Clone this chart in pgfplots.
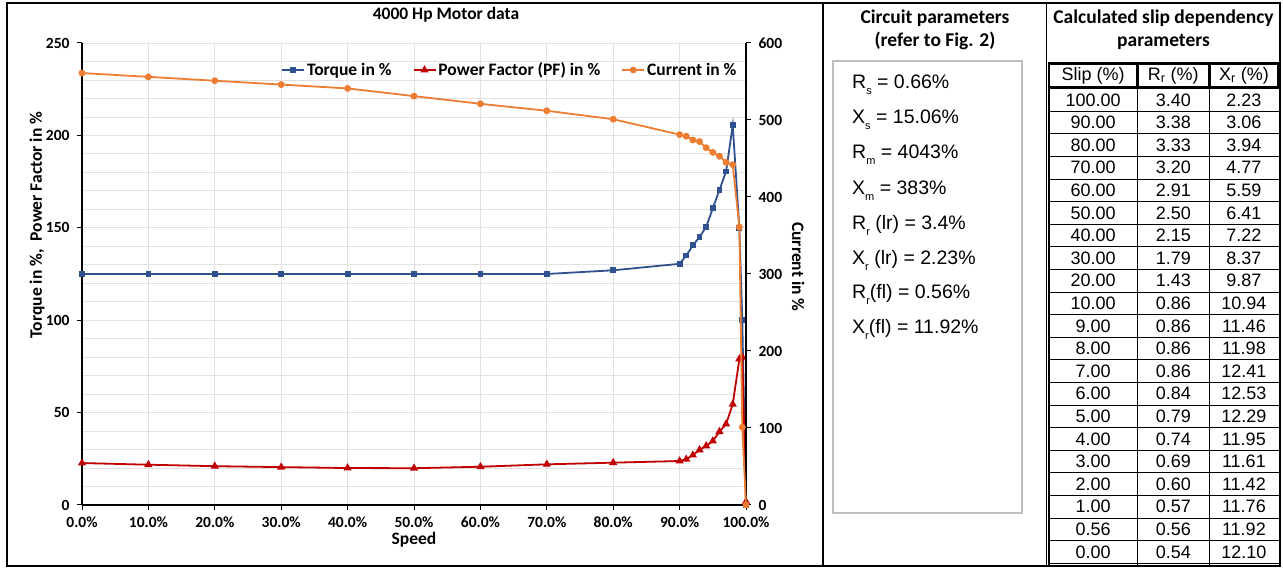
\documentclass[border=0pt]{standalone}
\usepackage{fontspec}
\setmainfont{Carlito}
\newfontfamily\arialf{Liberation Sans}
\usepackage{pgfplots}
\usepackage{pgfplotstable}
\pgfplotsset{compat=1.18}

\definecolor{torq}{RGB}{47,82,143}
\definecolor{pfred}{RGB}{192,0,0}
\definecolor{curr}{RGB}{237,125,49}
\definecolor{gridc}{RGB}{225,225,225}
\definecolor{boxgray}{RGB}{191,191,191}

% speed (%), torque (%), power factor (%), current (%)
\pgfplotstableread{
speed torque pf current
0     125   22.7 561
10    125   21.8 556
20    125   21.0 551
30    125   20.5 546
40    125   20.0 541
50    125   19.9 531
60    125   20.7 521
70    125   22.0 512
80    127   22.9 501
90    130.5 23.8 481
91    135   24.7 479
92    140.5 27.0 474
93    145   29.8 472
94    150.5 32.0 464
95    160.5 34.6 458
96    170.5 39.7 453
97    180.5 43.8 445
98    205.5 54.5 442
99    150   79.0 361
99.44 100   80.0 101
100   0     1.8  0
}\motordata

\newcommand{\sub}[1]{\raisebox{-6pt}{\fontsize{11}{11}\selectfont #1}}

\begin{document}
\begin{tikzpicture}[x=1pt,y=1pt]
\useasboundingbox (0,0) rectangle (1283,569);

\pgfplotsset{
  motorbase/.style={
    at={(82pt,64pt)}, anchor=south west,
    scale only axis, width=664pt, height=462pt,
    xmin=0, xmax=100, clip=false,
    /pgf/number format/assume math mode=true,
    ticklabel style={font=\bfseries\fontsize{15.5}{15.5}\selectfont},
    tick align=outside, major tick length=5pt,
    tick style={black, line width=1pt},
    axis line style={black, line width=1.5pt},
  },
}

\begin{axis}[motorbase,
  ymin=0, ymax=250,
  axis x line*=bottom, axis y line*=left,
  xtick={0,10,...,100},
  xticklabel={\pgfmathprintnumber[fixed,fixed zerofill,precision=1]{\tick}\%},
  ytick={0,50,...,250},
  minor y tick num=4, minor tick length=0pt,
  grid=both,
  major grid style={gridc, line width=0.8pt},
  minor grid style={gridc, line width=0.8pt},
  yticklabel style={xshift=-4pt},
  xticklabel style={yshift=-3pt},
]
\addplot[torq, line width=1.8pt, mark=square*, mark size=2pt] table[x=speed, y=torque] {\motordata};
\addplot[pfred, line width=1.8pt, mark=triangle*, mark size=3pt] table[x=speed, y=pf] {\motordata};
\end{axis}

\begin{axis}[motorbase,
  ymin=0, ymax=600,
  axis y line*=right, axis x line=none,
  ytick={0,100,...,600},
  yticklabel style={xshift=4pt},
  legend style={at={(rel axis cs:0.989,0.9416)}, anchor=east, draw=none, fill=none,
    inner sep=0pt, legend columns=3,
    font=\bfseries\fontsize{17.5}{17.5}\selectfont,
    /tikz/every even column/.append style={column sep=19pt}},
  legend image code/.code={\draw[mark repeat=2, mark phase=2] plot coordinates {(0pt,0pt) (11pt,0pt) (22pt,0pt)};},
]
\addlegendimage{torq, line width=1.8pt, mark=square*, mark size=2pt}
\addlegendentry{Torque in \%}
\addlegendimage{pfred, line width=1.8pt, mark=triangle*, mark size=3pt}
\addlegendentry{Power Factor (PF) in \%}
\addplot[curr, line width=1.8pt, mark=*, mark size=2.5pt] table[x=speed, y=current] {\motordata};
\addlegendentry{Current in \%}
\end{axis}

% chart texts
\node[anchor=base, font=\bfseries\fontsize{17.5}{17.5}\selectfont] at (446,549) {4000 Hp Motor data};
\node[anchor=base, font=\bfseries\fontsize{17.5}{17.5}\selectfont] at (414,24) {Speed};
\node[anchor=base, rotate=90, font=\bfseries\fontsize{17.5}{17.5}\selectfont] at (42,344) {Torque in \%,\ \ Power Factor in \%};
\node[anchor=base, rotate=-90, font=\bfseries\fontsize{17.5}{17.5}\selectfont] at (792,302) {Current in \%};

% frames
\draw[line width=1.5pt] (7,566) rectangle (1280,3);
\draw[line width=1.5pt] (823,566) -- (823,3);
\draw[line width=1.5pt] (1046.5,566) -- (1046.5,3);

% circuit parameters panel
\node[anchor=base, font=\bfseries\fontsize{19.5}{19.5}\selectfont] at (935,545.7) {Circuit parameters};
\node[anchor=base, font=\bfseries\fontsize{19.5}{19.5}\selectfont] at (935,522.3) {(refer to Fig. 2)};
\draw[boxgray, line width=2pt] (832.7,508) rectangle (1021.7,56);
\begin{scope}[every node/.style={anchor=base west, inner sep=0pt, font=\arialf\fontsize{19.5}{19.5}\selectfont}]
\node at (852,480.7) {R\sub{s} = 0.66\%};
\node at (852,445.7) {X\sub{s} = 15.06\%};
\node at (852,410.0) {R\sub{m} = 4043\%};
\node at (852,374.7) {X\sub{m} = 383\%};
\node at (852,339.0) {R\sub{r} (lr) = 3.4\%};
\node at (852,304.0) {X\sub{r} (lr) = 2.23\%};
\node at (852,270.7) {R\sub{r}(fl) = 0.56\%};
\node at (852,235.7) {X\sub{r}(fl) = 11.92\%};
\end{scope}

% slip dependency panel
\node[anchor=base, font=\bfseries\fontsize{19.5}{19.5}\selectfont] at (1163.5,545.7) {Calculated slip dependency};
\node[anchor=base, font=\bfseries\fontsize{19.5}{19.5}\selectfont] at (1163.5,522.3) {parameters};

\begin{scope}[every node/.style={font=\arialf\fontsize{18}{18}\selectfont, inner sep=0pt}]
\draw[line width=2.5pt] (1049,505.7) rectangle (1137.3,481.5);
\draw[line width=2.5pt] (1137.3,505.7) rectangle (1209.3,481.5);
\draw[line width=2.5pt] (1209.3,505.7) rectangle (1278.5,481.5);
\node at (1093.2,493.6) {Slip (\%)};
\node at (1173.3,493.6) {R\textsubscript{r} (\%)};
\node at (1243.9,493.6) {X\textsubscript{r} (\%)};
\foreach \k in {0,...,21} {
  \draw[line width=0.8pt] (1048,{480.4-\k*22.6}) -- (1279,{480.4-\k*22.6});
}
\draw[line width=2.5pt] (1049,481.5) -- (1049,3);
\draw[line width=0.8pt] (1137.3,481.5) -- (1137.3,3);
\draw[line width=0.8pt] (1209.3,481.5) -- (1209.3,3);
\foreach \s/\r/\xr [count=\i] in {100.00/3.40/2.23, 90.00/3.38/3.06, 80.00/3.33/3.94,
  70.00/3.20/4.77, 60.00/2.91/5.59, 50.00/2.50/6.41, 40.00/2.15/7.22, 30.00/1.79/8.37,
  20.00/1.43/9.87, 10.00/0.86/10.94, 9.00/0.86/11.46, 8.00/0.86/11.98, 7.00/0.86/12.41,
  6.00/0.84/12.53, 5.00/0.79/12.29, 4.00/0.74/11.95, 3.00/0.69/11.61, 2.00/0.60/11.42,
  1.00/0.57/11.76, 0.56/0.56/11.92, 0.00/0.54/12.10} {
  \pgfmathsetmacro{\yc}{480.4-(\i-0.5)*22.6}
  \node at (1093.2,\yc) {\s};
  \node at (1173.3,\yc) {\r};
  \node at (1243.9,\yc) {\xr};
}
\end{scope}
\end{tikzpicture}
\end{document}
